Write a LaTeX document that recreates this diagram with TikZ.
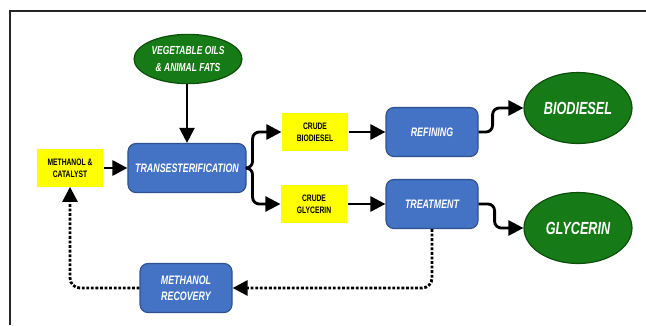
\documentclass[tikz,border=0pt]{standalone}
\usepackage{fontspec}
\newfontfamily\narrowsf[FakeStretch=0.72]{Liberation Sans}
\usetikzlibrary{shapes.geometric,arrows.meta}
\definecolor{boxblue}{RGB}{68,114,196}
\definecolor{boxedge}{RGB}{47,82,143}
\definecolor{ovalgreen}{RGB}{22,122,22}
\definecolor{ovaledge}{RGB}{12,78,12}
\definecolor{feedyellow}{RGB}{255,255,0}

\begin{document}
\begin{tikzpicture}[x=0.03cm,y=0.03cm,
    process/.style={draw=boxedge,fill=boxblue,line width=1pt,rounded corners=0.24cm,
      minimum width=2.76cm,minimum height=1.47cm,inner sep=0pt,align=center,text=white,
      font=\narrowsf\bfseries\itshape\fontsize{10.5}{13.5}\selectfont},
    feed/.style={fill=feedyellow,minimum width=2cm,minimum height=1.12cm,inner sep=0pt,
      align=center,font=\narrowsf\bfseries\fontsize{8}{10.5}\selectfont},
    product/.style={ellipse,draw=ovaledge,fill=ovalgreen,line width=1pt,inner sep=0pt,
      minimum width=3.24cm,minimum height=2.13cm,align=center,text=white,
      font=\narrowsf\bfseries\itshape\fontsize{15}{18}\selectfont},
    flow/.style={line width=2.4pt,-{Triangle[length=0.45cm,width=0.45cm]}},
    recycle/.style={flow,dash pattern=on 2.4pt off 1.5pt}]
  \useasboundingbox (0,0) rectangle (646,-325);
  \draw [line width=1.7pt,black!85] (10,-325) -- (10,-11) -- (646,-11);

  \node [product,minimum width=3.24cm,minimum height=1.48cm,
    font=\narrowsf\bfseries\itshape\fontsize{10}{14}\selectfont]
    (veg) at (188,-59) {VEGETABLE OILS\\\& ANIMAL FATS};
  \node [feed] (meth) at (70,-168) {METHANOL \&\\CATALYST};
  \node [process,minimum width=3.54cm] (trans) at (187,-168) {TRANSESTERIFICATION};
  \node [feed] (cb) at (315,-132) {CRUDE\\BIODIESEL};
  \node [feed] (cg) at (314,-204) {CRUDE\\GLYCERIN};
  \node [process] (ref) at (432,-132) {REFINING};
  \node [process] (treat) at (432,-204) {TREATMENT};
  \node [product] (bio) at (578,-108) {BIODIESEL};
  \node [product] (gly) at (578,-228) {GLYCERIN};
  \node [process] (rec) at (186,-288) {METHANOL\\RECOVERY};

  \draw [flow,line width=1.9pt] (veg.south -| trans.north) -- (trans.north);
  \draw [flow] (meth) -- (trans);
  \draw [flow,rounded corners=0.2cm] (trans.east) -- ++(6,0) |- (cb.west);
  \draw [flow,rounded corners=0.2cm] (trans.east) -- ++(6,0) |- (cg.west);
  \draw [flow] (cb) -- (ref);
  \draw [flow] (cg) -- (treat);
  \draw [flow,rounded corners=0.2cm] (ref.east) -- ++(14,0) |- (bio.west);
  \draw [flow,rounded corners=0.2cm] (treat.east) -- ++(16,0) |- (gly.west);
  \draw [recycle,rounded corners=0.3cm] (treat.south) |- (rec.east);
  \draw [recycle,rounded corners=0.3cm] (rec.west) -| (meth.south);
\end{tikzpicture}
\end{document}
